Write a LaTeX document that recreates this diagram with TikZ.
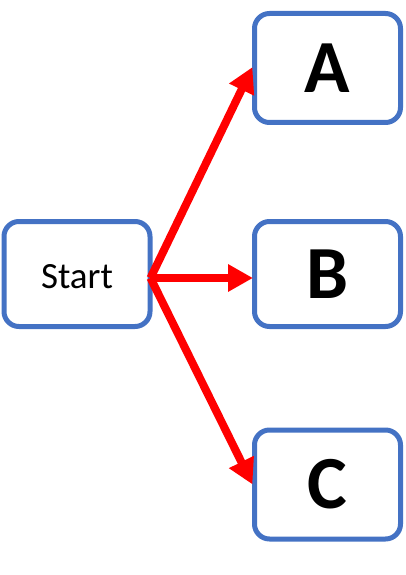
\documentclass[tikz,border=0pt]{standalone}
\usepackage{fontspec}
\setmainfont{Carlito}
\usetikzlibrary{arrows.meta}
\definecolor{boxblue}{HTML}{4472C4}
\definecolor{arrred}{HTML}{FF0000}
\tikzset{
  box/.style={draw=boxblue, line width=5pt, rounded corners=15pt, fill=white,
    minimum width=146pt, inner sep=0pt, anchor=center},
  conn/.style={draw=arrred, line width=8pt,
    -{Triangle[length=25pt,width=26pt]}, shorten >=-1pt},
}
\begin{document}
\begin{tikzpicture}[x=1pt,y=1pt]
\useasboundingbox (0,0) rectangle (405,-575);
\node[box, minimum height=105pt, text height=29pt, text depth=0pt, font=\fontsize{37}{40}\selectfont] (start) at (77,-274) {Start};
\node[box, minimum height=109pt, font=\fontsize{75}{80}\selectfont\bfseries] (A) at (327.5,-68) {A};
\node[box, minimum height=105pt, font=\fontsize{75}{80}\selectfont\bfseries] (B) at (327.5,-274) {B};
\node[box, minimum height=109pt, font=\fontsize{75}{80}\selectfont\bfseries] (C) at (327.5,-484.5) {C};
\coordinate (s) at ([xshift=-2pt,yshift=-4pt]start.east);
\draw[conn] (s) -- (A.west);
\draw[conn] (s) -- ([yshift=-4pt]B.west);
\draw[conn] (s) -- ([yshift=1pt]C.west);
\end{tikzpicture}
\end{document}
